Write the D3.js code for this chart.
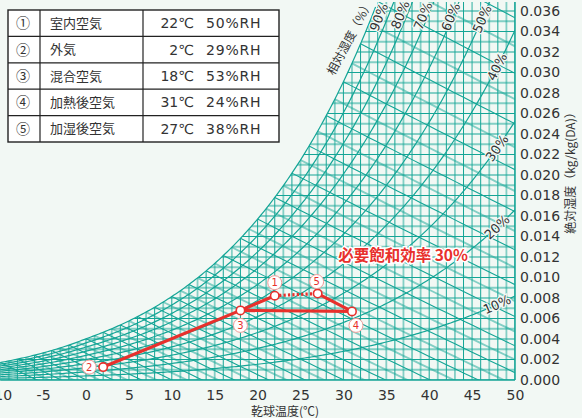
<!DOCTYPE html>
<html>
<head>
<meta charset="utf-8">
<script src="https://cdn.jsdelivr.net/npm/d3@7/dist/d3.min.js"></script>
<style>
  html, body { margin: 0; padding: 0; background: #f2f8f4; }
  svg { display: block; }
</style>
</head>
<body>
<svg id="chart" width="582" height="418"></svg>
<script>
// ---- data ----
// dry-bulb temperature tick labels (°C)
const tempTicks = [-10, -5, 0, 5, 10, 15, 20, 25, 30, 35, 40, 45, 50];
// absolute humidity tick labels (kg/kg(DA))
const humidityTicks = [0, 0.002, 0.004, 0.006, 0.008, 0.010, 0.012, 0.014, 0.016, 0.018,
  0.020, 0.022, 0.024, 0.026, 0.028, 0.030, 0.032, 0.034, 0.036];
// saturation vapour pressure table (kPa), every 2 °C
const satTemps = [-10, -8, -6, -4, -2, 0, 2, 4, 6, 8, 10, 12, 14, 16, 18, 20, 22, 24,
  26, 28, 30, 32, 34, 36, 38, 40, 42, 44, 46, 48, 50];
const satPressure = [0.260, 0.310, 0.3685, 0.4372, 0.5173, 0.6112, 0.7060, 0.8135, 0.9353,
  1.0729, 1.2282, 1.4028, 1.5989, 1.8188, 2.0647, 2.3392, 2.6452, 2.9856, 3.3637, 3.7828,
  4.2467, 4.7592, 5.3247, 5.9479, 6.6331, 7.3851, 8.2096, 9.1124, 10.099, 11.177, 12.352];
// relative humidity curves (%) and their labels
const rhLines = [10, 20, 30, 40, 50, 60, 70, 80, 90];
const rhLabels = ["10%", "20%", "30%", "40%", "50%", "60%", "70%", "80%", "90%"];
// wet-bulb temperature lines (°C)
const wetBulbLines = [-10, -9, -8, -7, -6, -5, -4, -3, -2, -1, 0, 1, 2, 3, 4, 5, 6, 7, 8, 9,
  10, 11, 12, 13, 14, 15, 16, 17, 18, 19, 20, 21, 22, 23, 24, 25, 26, 27, 28, 29, 30, 31,
  32, 33, 34, 35, 36];
// air states
const pointIds = ["①", "②", "③", "④", "⑤"];
const pointNames = ["室内空気", "外気", "混合空気", "加熱後空気", "加湿後空気"];
const pointTemps = [22, 2, 18, 31, 27];
const pointRH = [50, 29, 53, 24, 38];
// process lines between states (1-based ids)
const solidPaths = [[2, 3], [3, 1], [3, 4], [4, 5]];
const dottedPaths = [[1, 5]];
const efficiencyLabel = "必要飽和効率 30%";

// ---- psychrometrics ----
const P_ATM = 101.325;   // states
const P_GRID = 95.0;     // printed grid curves
const lnPs = d3.scaleLinear().domain(satTemps).range(satPressure.map(Math.log));
const ps = t => Math.exp(lnPs(t));
const humidityAt = (p) => (t, phi) => { const pv = phi * ps(t); return 0.622 * pv / (p - pv); };
const gridHumidity = humidityAt(P_GRID);
const stateHumidity = humidityAt(P_ATM);
const wetBulbHumidity = (t, twb) =>
  ((2501 - 2.326 * twb) * gridHumidity(twb, 1) - 1.006 * (t - twb)) / (2501 + 1.86 * t - 4.186 * twb);

// ---- layout ----
const svg = d3.select("#chart");
const x = d3.scaleLinear().domain([0, 50]).range([86, 515]);
const y = d3.scaleLinear().domain([0, 0.036]).range([380, 11]);
const wTop = y.invert(2);
const tMin = -10, tMax = 50;

const GRID = "#14a596";
const GRID_LIGHT = "rgba(20,165,150,0.5)";
const RED = "#e8302c";
const TEXT = "#333333";
const BG = "#f2f8f4";
const NUM_FONT = "'DejaVu Sans', sans-serif";
const JP_FONT = "'Noto Sans CJK JP', 'Noto Sans', sans-serif";

const samples = d3.range(tMin, tMax + 0.001, 0.25);
const line = d3.line().x(d => x(d[0])).y(d => y(d[1]));

// clip region: under the saturation curve, above w = 0, capped at the top
const clipPts = [[tMin, 0]].concat(samples.map(t => [t, Math.min(gridHumidity(t, 1), wTop)]), [[tMax, 0]]);
svg.append("defs").append("clipPath").attr("id", "gridClip")
  .append("path").attr("d", line(clipPts) + "Z");

const grid = svg.append("g").attr("clip-path", "url(#gridClip)");
const isEven = (v, step) => Math.round(v / step) % 2 === 0;
const strokeFor = (v, step) => isEven(v, step) ? GRID : GRID_LIGHT;
const widthFor = (v, step) => isEven(v, step) ? 1 : 1.8;

// dry-bulb lines, every 1 °C
grid.append("g").selectAll("line").data(d3.range(tMin, tMax + 0.5, 1)).join("line")
  .attr("x1", d => x(d)).attr("x2", d => x(d)).attr("y1", y(0)).attr("y2", 0)
  .attr("stroke", d => strokeFor(d, 1)).attr("stroke-width", d => widthFor(d, 1));
// absolute humidity lines, every 0.001
grid.append("g").selectAll("line").data(d3.range(0, wTop, 0.001)).join("line")
  .attr("x1", x(tMin)).attr("x2", x(tMax)).attr("y1", d => y(d)).attr("y2", d => y(d))
  .attr("stroke", d => strokeFor(d, 0.001)).attr("stroke-width", d => widthFor(d, 0.001));

// wet-bulb lines
grid.append("g").selectAll("path").data(wetBulbLines).join("path")
  .attr("d", twb => line(d3.range(twb - 1, tMax + 0.5, 1).map(t => [t, wetBulbHumidity(t, twb)])))
  .attr("fill", "none").attr("stroke", d => strokeFor(d, 1)).attr("stroke-width", d => widthFor(d, 1) + 0.1);

// relative humidity curves
grid.append("g").selectAll("path").data(rhLines).join("path")
  .attr("d", r => line(samples.map(t => [t, gridHumidity(t, r / 100)])))
  .attr("fill", "none").attr("stroke", GRID).attr("stroke-width", 1.2);

// saturation curve and frame
svg.append("path").attr("d", line(samples.filter(t => gridHumidity(t, 1) <= wTop).map(t => [t, gridHumidity(t, 1)])))
  .attr("fill", "none").attr("stroke", GRID).attr("stroke-width", 1.2);
svg.append("line").attr("x1", x(tMin)).attr("x2", x(tMax)).attr("y1", y(0)).attr("y2", y(0))
  .attr("stroke", GRID).attr("stroke-width", 1.5);
svg.append("line").attr("x1", x(tMax)).attr("x2", x(tMax)).attr("y1", y(0)).attr("y2", 2)
  .attr("stroke", GRID).attr("stroke-width", 1.5);

// ---- axes ----
const xAxis = d3.axisBottom(x).tickValues(tempTicks).tickSize(0).tickPadding(0).tickFormat(d3.format("d"));
svg.append("g").attr("transform", `translate(0,${y(0) + 10})`).call(xAxis)
  .call(g => g.select(".domain").remove())
  .selectAll("text").attr("fill", TEXT).attr("font-size", 14).attr("font-family", NUM_FONT)
  .text(d => d < 0 ? "-" + Math.abs(d) : d);

const yAxis = d3.axisRight(y).tickValues(humidityTicks).tickSize(0).tickPadding(0).tickFormat(d3.format(".3f"));
svg.append("g").attr("transform", `translate(${x(tMax) + 5},0)`).call(yAxis)
  .call(g => g.select(".domain").remove())
  .selectAll("text").attr("fill", TEXT).attr("font-size", 14).attr("font-family", NUM_FONT);

svg.append("text").attr("x", 285).attr("y", 416).attr("text-anchor", "middle")
  .attr("font-family", JP_FONT).attr("font-size", 12).attr("fill", TEXT).text("乾球温度(℃)");
svg.append("text").attr("transform", "translate(575,170) rotate(-90)").attr("text-anchor", "middle")
  .attr("font-family", JP_FONT).attr("font-size", 12).attr("fill", TEXT).text("絶対湿度（kg/kg(DA)）");
svg.append("text").attr("transform", "translate(334,76) rotate(-62)")
  .attr("font-family", JP_FONT).attr("font-size", 12).attr("fill", TEXT).text("相対湿度（%）");

// relative humidity labels along their curves
const rhLabelLayout = {
  90: { w: 0.0354, dx: -9 }, 80: { w: 0.0356, dx: -7 }, 70: { w: 0.0355, dx: -5 },
  60: { w: 0.0354, dx: -2 }, 50: { w: 0.0352, dx: 0 },
  40: { t: 47.9, dx: 0 }, 30: { t: 47.9, dx: 0 }, 20: { t: 47.9, dx: 0 }, 10: { t: 47.9, dx: 0 }
};
rhLines.forEach((r, i) => {
  const lay = rhLabelLayout[r];
  const t = lay.t !== undefined ? lay.t
    : d3.range(tMin, tMax, 0.02).find(tt => gridHumidity(tt, r / 100) >= lay.w);
  const w = gridHumidity(t, r / 100);
  const ang = Math.atan2(y(gridHumidity(t + 0.5, r / 100)) - y(gridHumidity(t - 0.5, r / 100)),
    x(t + 0.5) - x(t - 0.5)) * 180 / Math.PI;
  svg.append("text")
    .attr("transform", `translate(${x(t) + lay.dx},${y(w)}) rotate(${ang})`)
    .attr("text-anchor", "middle").attr("dy", "0.35em")
    .attr("font-family", NUM_FONT).attr("font-size", 13).attr("fill", TEXT)
    .attr("stroke", BG).attr("stroke-width", 2.5).attr("paint-order", "stroke")
    .text(rhLabels[i]);
});

// ---- process lines and states ----
const states = pointTemps.map((t, i) => ({ id: pointIds[i], t, w: stateHumidity(t, pointRH[i] / 100) }));
const at = k => states[k - 1];
const proc = svg.append("g");
proc.selectAll("line.solid").data(solidPaths).join("line").attr("class", "solid")
  .attr("x1", d => x(at(d[0]).t)).attr("y1", d => y(at(d[0]).w))
  .attr("x2", d => x(at(d[1]).t)).attr("y2", d => y(at(d[1]).w))
  .attr("stroke", RED).attr("stroke-width", 3.2).attr("stroke-linecap", "round");
proc.selectAll("line.dotted").data(dottedPaths).join("line").attr("class", "dotted")
  .attr("x1", d => x(at(d[0]).t)).attr("y1", d => y(at(d[0]).w))
  .attr("x2", d => x(at(d[1]).t)).attr("y2", d => y(at(d[1]).w))
  .attr("stroke", RED).attr("stroke-width", 3.2).attr("stroke-dasharray", "2.2,2.2");
proc.selectAll("circle").data(states).join("circle")
  .attr("cx", d => x(d.t)).attr("cy", d => y(d.w)).attr("r", 4.2)
  .attr("fill", "#fff").attr("stroke", RED).attr("stroke-width", 1.6);

// state number badges
const badgeOffset = [[0, -13], [-14, 0], [0, 15], [4, 14], [-1, -12]];
const badges = proc.selectAll("g.badge").data(states).join("g").attr("class", "badge")
  .attr("transform", (d, i) => `translate(${x(d.t) + badgeOffset[i][0]},${y(d.w) + badgeOffset[i][1]})`);
badges.append("circle").attr("r", 7).attr("fill", "#fff").attr("stroke", "#f29a98").attr("stroke-width", 1);
badges.append("text").attr("text-anchor", "middle").attr("dy", "0.36em")
  .attr("font-family", NUM_FONT).attr("font-size", 10).attr("fill", RED)
  .text((d, i) => String(i + 1));

svg.append("text").attr("x", 403).attr("y", 261).attr("text-anchor", "middle")
  .attr("font-family", JP_FONT).attr("font-weight", "bold").attr("font-size", 15.5)
  .attr("fill", RED).attr("stroke", "#fff").attr("stroke-width", 3).attr("paint-order", "stroke")
  .text(efficiencyLabel);

// ---- legend table ----
const tbl = svg.append("g");
const rowTop = 10, rowH = 26.4, colX = [8, 40, 143, 279];
tbl.append("rect").attr("x", colX[0]).attr("y", rowTop).attr("width", colX[3] - colX[0])
  .attr("height", rowH * pointIds.length).attr("fill", "#fff").attr("stroke", "#222").attr("stroke-width", 1.4);
d3.range(1, pointIds.length).forEach(i => tbl.append("line")
  .attr("x1", colX[0]).attr("x2", colX[3]).attr("y1", rowTop + i * rowH).attr("y2", rowTop + i * rowH)
  .attr("stroke", "#222").attr("stroke-width", 1.2));
[colX[1], colX[2]].forEach(cx => tbl.append("line")
  .attr("x1", cx).attr("x2", cx).attr("y1", rowTop).attr("y2", rowTop + rowH * pointIds.length)
  .attr("stroke", "#222").attr("stroke-width", 1.2));
pointIds.forEach((id, i) => {
  const cy = rowTop + i * rowH + rowH / 2;
  const row = tbl.append("g").attr("fill", TEXT).attr("font-size", 14);
  row.append("text").attr("x", 23).attr("y", cy).attr("dy", "0.36em").attr("text-anchor", "middle")
    .attr("font-family", JP_FONT).text(id);
  row.append("text").attr("x", 50).attr("y", cy).attr("dy", "0.36em")
    .attr("font-family", JP_FONT).attr("font-size", 13).text(pointNames[i]);
  row.append("text").attr("x", 194).attr("y", cy).attr("dy", "0.36em").attr("text-anchor", "end")
    .attr("font-family", NUM_FONT).text(pointTemps[i] + "℃");
  row.append("text").attr("x", 206).attr("y", cy).attr("dy", "0.36em")
    .attr("font-family", NUM_FONT).attr("letter-spacing", 0.8).text(pointRH[i] + "%RH");
});
</script>
</body>
</html>
